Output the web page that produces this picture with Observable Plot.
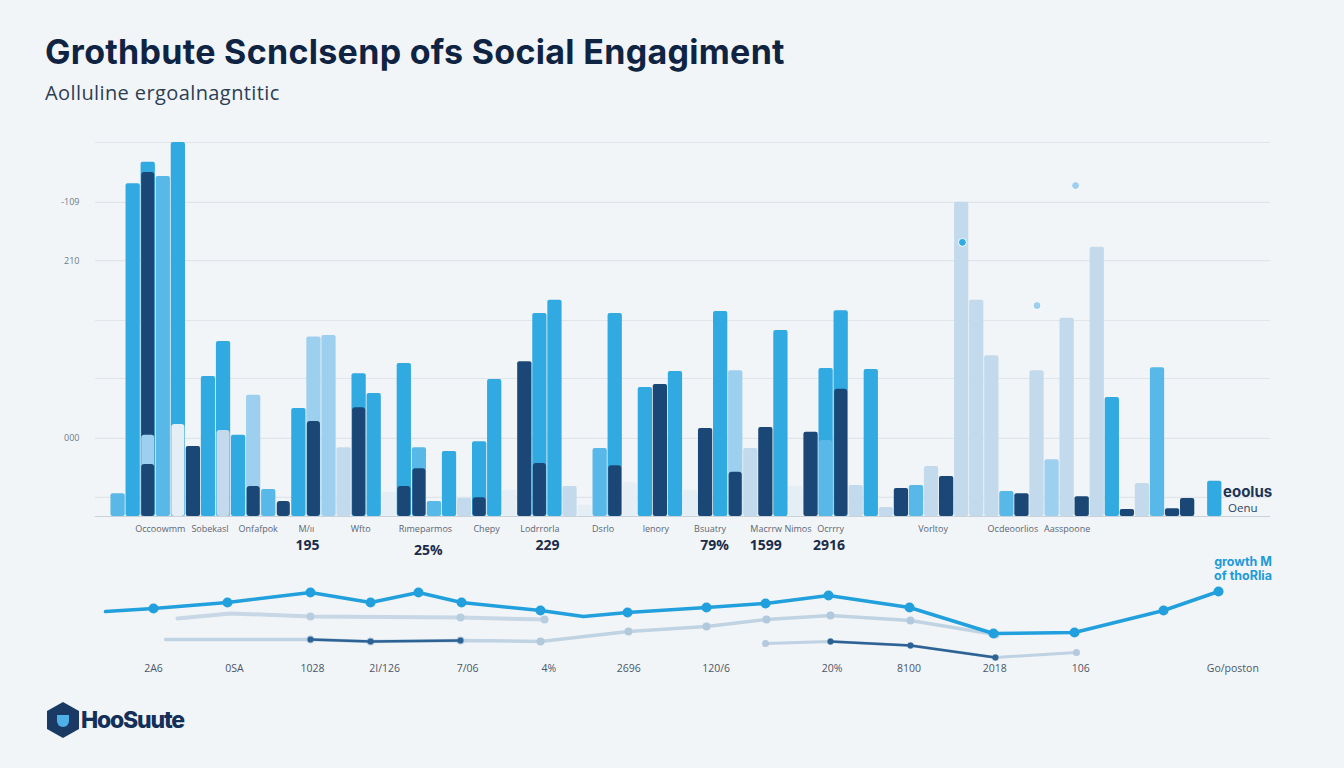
<!DOCTYPE html>
<html>
<head>
<meta charset="utf-8">
<script src="https://cdn.jsdelivr.net/npm/d3@7"></script>
<script src="https://cdn.jsdelivr.net/npm/@observablehq/plot@0.6"></script>
<style>
  html, body { margin: 0; padding: 0; background: #f2f5f7; }
  #page { position: relative; width: 1344px; height: 768px; overflow: hidden; background: #f2f5f7; font-family: "Open Sans", "Noto Sans", sans-serif; }
  #title { position: absolute; left: 45px; top: 31px; font-family: Inter, "Open Sans", sans-serif; font-weight: 700; font-size: 34px; color: #0f2443; letter-spacing: 0.3px; white-space: nowrap; }
  #subtitle { position: absolute; left: 45px; top: 79px; font-size: 20px; color: #2c3e55; white-space: nowrap; letter-spacing: 0.4px; }
  #top { position: absolute; left: 0; top: 130px; }
  #bottom { position: absolute; left: 0; top: 575px; }
  #legend1 { position: absolute; left: 1223px; top: 482px; font-family: Inter, sans-serif; font-weight: 700; font-size: 15px; color: #1c3557; }
  #legend2 { position: absolute; left: 1228px; top: 500px; font-size: 11.5px; color: #2c4565; }
  #growth { position: absolute; right: 72px; top: 555px; text-align: right; font-family: Inter, sans-serif; font-weight: 700; font-size: 12.5px; line-height: 14px; color: #1e9bd7; }
  #logo { position: absolute; left: 47px; top: 702px; display: flex; align-items: center; }
  #hex { width: 32px; height: 36px; background: #1a3a63; clip-path: polygon(50% 0, 100% 25%, 100% 75%, 50% 100%, 0 75%, 0 25%); position: relative; }
  #hex::after { content: ""; position: absolute; left: 10px; top: 13px; width: 12px; height: 12px; background: #4db0e6; border-radius: 0 0 6px 6px; }
  #logotext { font-family: Inter, sans-serif; font-weight: 800; font-size: 23px; color: #13305a; margin-left: 2px; letter-spacing: -1.2px; }
  svg text { font-family: "Open Sans", "Noto Sans", sans-serif; }
</style>
</head>
<body>
<div id="page">
  <div id="title">Grothbute Scnclsenp ofs Social Engagiment</div>
  <div id="subtitle">Aolluline ergoalnagntitic</div>
  <div id="top"></div>
  <div id="bottom"></div>
  <div id="legend1">eoolus</div>
  <div id="legend2">Oenu</div>
  <div id="growth">growth M<br>of thoRlia</div>
  <div id="logo"><div id="hex"></div><div id="logotext">HooSuute</div></div>
</div>
<script>
// ---------- data ----------
const shades = {
  bright: "#31a9e1",
  mid: "#58b9e8",
  sky: "#9dd0ef",
  pale: "#c3daec",
  white: "#e5eef5",
  navy: "#1a4775"
};

// grid values and y tick labels (value axis 0-100)
const gridValues = [5.1, 20.9, 36.9, 52.4, 68.4, 84, 100];
const yTickLabels = [
  { value: 84, label: "-109" },
  { value: 68.4, label: "210" },
  { value: 20.9, label: "000" }
];

// back layer bars: slot, value, shade
const backBars = [
  {slot:1,value:6.1,c:"mid"},{slot:2,value:89,c:"bright"},{slot:3,value:94.7,c:"bright"},
  {slot:4,value:90.9,c:"mid"},{slot:5,value:100,c:"bright"},{slot:6,value:18.7,c:"navy"},
  {slot:7,value:37.4,c:"bright"},{slot:8,value:46.8,c:"bright"},{slot:9,value:21.7,c:"bright"},
  {slot:10,value:32.4,c:"sky"},{slot:11,value:7.2,c:"mid"},{slot:13,value:28.9,c:"bright"},
  {slot:14,value:48,c:"sky"},{slot:15,value:48.4,c:"sky"},{slot:16,value:18.4,c:"pale"},
  {slot:17,value:38.2,c:"bright"},{slot:18,value:32.9,c:"bright"},{slot:19,value:6.4,c:"white"},
  {slot:20,value:40.9,c:"bright"},{slot:21,value:18.4,c:"mid"},{slot:22,value:4,c:"mid"},
  {slot:23,value:17.4,c:"bright"},{slot:24,value:4.8,c:"pale"},{slot:25,value:20,c:"bright"},
  {slot:26,value:36.6,c:"bright"},{slot:27,value:7,c:"white"},{slot:28,value:41.4,c:"navy"},
  {slot:29,value:54.3,c:"bright"},{slot:30,value:57.8,c:"bright"},{slot:31,value:8,c:"pale"},
  {slot:32,value:3,c:"white"},{slot:33,value:18.2,c:"mid"},{slot:34,value:54.3,c:"bright"},
  {slot:35,value:9,c:"white"},{slot:36,value:34.5,c:"bright"},{slot:37,value:35.3,c:"navy"},
  {slot:38,value:38.8,c:"bright"},{slot:39,value:7,c:"white"},{slot:40,value:23.5,c:"navy"},
  {slot:41,value:54.8,c:"bright"},{slot:42,value:39,c:"sky"},{slot:43,value:18.2,c:"pale"},
  {slot:44,value:23.8,c:"navy"},{slot:45,value:49.7,c:"bright"},{slot:46,value:8,c:"white"},
  {slot:47,value:22.5,c:"navy"},{slot:48,value:39.6,c:"bright"},{slot:49,value:55,c:"bright"},
  {slot:50,value:8.3,c:"pale"},{slot:51,value:39.3,c:"bright"},{slot:52,value:2.4,c:"pale"},
  {slot:53,value:7.5,c:"navy"},{slot:54,value:8.3,c:"mid"},{slot:55,value:13.4,c:"pale"},
  {slot:56,value:10.7,c:"navy"},{slot:57,value:84,c:"pale"},{slot:58,value:57.8,c:"pale"},
  {slot:59,value:43,c:"pale"},{slot:60,value:6.7,c:"mid"},{slot:61,value:6.1,c:"navy"},
  {slot:62,value:39,c:"pale"},{slot:63,value:15.2,c:"sky"},{slot:64,value:53,c:"pale"},
  {slot:65,value:5.3,c:"navy"},{slot:66,value:72,c:"pale"},{slot:67,value:31.8,c:"bright"},
  {slot:68,value:1.9,c:"navy"},{slot:69,value:8.8,c:"pale"},{slot:70,value:39.8,c:"mid"},
  {slot:71,value:2.1,c:"navy"},{slot:72,value:4.8,c:"navy"},{slot:73.8,value:9.4,c:"bright"}
];

// front layer bars, drawn in order over the back layer
const frontBars = [
  {slot:3,value:92,c:"navy"},{slot:3,value:21.7,c:"sky"},{slot:3,value:13.9,c:"navy"},
  {slot:5,value:24.6,c:"white"},{slot:8,value:23,c:"pale"},{slot:10,value:8,c:"navy"},
  {slot:12,value:4,c:"navy"},{slot:14,value:25.4,c:"navy"},{slot:17,value:29.1,c:"navy"},
  {slot:20,value:8,c:"navy"},{slot:21,value:12.8,c:"navy"},{slot:25,value:5,c:"navy"},
  {slot:29,value:14.2,c:"navy"},{slot:34,value:13.6,c:"navy"},{slot:42,value:11.8,c:"navy"},
  {slot:48,value:20.3,c:"mid"},{slot:49,value:34,c:"navy"}
];

// floating markers over the right bars
const markers = [
  {slot:57.55, value:73.3, c:"bright"},
  {slot:65.06, value:88.5, c:"sky"},
  {slot:62.5, value:56.4, c:"sky"}
];

// category labels under the bars
const categories = [
  {pos:4.3,name:"Occoowmm"},{pos:7.6,name:"Sobekasl"},{pos:10.8,name:"Onfafpok"},
  {pos:14.0,name:"M/ıı"},{pos:17.6,name:"Wfto"},{pos:21.9,name:"Rımeparmos"},
  {pos:25.96,name:"Chepy"},{pos:29.5,name:"Lodrrorla"},{pos:33.7,name:"Dsrlo"},
  {pos:37.2,name:"lenory"},{pos:40.8,name:"Bsuatry"},{pos:45.5,name:"Macrrw Nimos"},
  {pos:48.8,name:"Ocrrry"},{pos:55.6,name:"Vorltoy"},{pos:60.9,name:"Ocdeoorlios"},
  {pos:64.5,name:"Aasspoone"}
];
const highlightValues = [
  {pos:14.07,label:"195"},{pos:30.0,label:"229"},{pos:41.1,label:"79%"},
  {pos:44.5,label:"1599"},{pos:48.7,label:"2916"}
];
const highlightValuesLow = [{pos:22.1,label:"25%"}];

// line chart series (period position, value)
const mainT = [0.66,3.85,8.76,14.27,18.26,21.44,24.3,29.54,32.39,35.32,40.56,44.48,48.66,54.04,59.61,64.99,70.9,74.55];
const mainV = [65.3,69.3,77.3,90.7,77.3,90.7,77.3,66.7,58.7,64,70.7,76,86.7,70.7,36,37.3,66.7,92];
const mainDot = [false,true,true,true,true,true,true,true,false,true,true,true,true,true,true,true,true,true];
const upperT = [5.44,8.96,14.27,24.23,29.81];
const upperV = [56,62.7,58.7,57.3,54.7];
const lowerT = [4.65,14.27,18.26,24.23,29.54,35.38,40.56,44.54,48.79,54.1,59.74];
const lowerV = [28,28,25.3,26.7,25.3,38.7,45.3,54.7,60,53.3,34.7];
const rightT = [44.48,48.79,54.1,59.74,65.12];
const rightV = [22.7,25.3,20,4,10.7];
const darkT = [14.27,18.26,24.23,36,48.79,54.1,59.74];
const darkV = [28,25.3,26.7,null,25.3,20,4];

const periodLabels = [
  {pos:3.85,label:"2A6"},{pos:9.23,label:"0SA"},{pos:14.4,label:"1028"},
  {pos:19.2,label:"2I/126"},{pos:24.7,label:"7/06"},{pos:30.1,label:"4%"},
  {pos:35.4,label:"2696"},{pos:41.2,label:"120/6"},{pos:48.9,label:"20%"},
  {pos:54.0,label:"8100"},{pos:59.7,label:"2018"},{pos:65.4,label:"106"},
  {pos:75.5,label:"Go/poston"}
];

// ---------- build ----------
const toRows = (t, v) => t.map((x, i) => ({t: x, v: v[i], i}));
const mainRows = toRows(mainT, mainV);
const upperRows = toRows(upperT, upperV);
const lowerRows = toRows(lowerT, lowerV);
const rightRows = toRows(rightT, rightV);
const darkRows = toRows(darkT, darkV);

const topChart = Plot.plot({
  width: 1344, height: 440,
  marginLeft: 95, marginRight: 74, marginTop: 12, marginBottom: 54,
  x: {domain: [0, 78], axis: null},
  y: {domain: [0, 100], axis: null},
  style: {background: "transparent", overflow: "visible"},
  marks: [
    Plot.ruleY(gridValues, {stroke: "#dfe5ea", strokeWidth: 1.2}),
    Plot.text(yTickLabels, {x: 0, y: "value", text: "label", dx: -16, textAnchor: "end", fontSize: 9, fill: "#6b7a8c"}),
    Plot.rect(backBars, {x1: "slot", x2: d => d.slot + 1, y1: 0, y2: "value", fill: d => shades[d.c], insetLeft: 0.4, insetRight: 0.4, rx: 2}),
    Plot.rect(frontBars, {x1: "slot", x2: d => d.slot + 1, y1: 0, y2: "value", fill: d => shades[d.c], insetLeft: 1, insetRight: 1, rx: 3}),
    Plot.ruleY([0], {stroke: "#c9d2da", strokeWidth: 1.2}),
    Plot.dot(markers, {x: "slot", y: "value", r: 4, fill: d => shades[d.c], stroke: "#ffffff", strokeWidth: 1}),
    Plot.text(categories, {x: "pos", y: 0, text: "name", dy: 13, fontSize: 9, fill: "#5b6675"}),
    Plot.text(highlightValues, {x: "pos", y: 0, text: "label", dy: 29, fontSize: 14, fontWeight: 700, fill: "#1b2c4a"}),
    Plot.text(highlightValuesLow, {x: "pos", y: 0, text: "label", dy: 34, fontSize: 14, fontWeight: 700, fill: "#1b2c4a"})
  ]
});
document.getElementById("top").appendChild(topChart);

const bottomChart = Plot.plot({
  width: 1344, height: 105,
  marginLeft: 95, marginRight: 74, marginTop: 10, marginBottom: 20,
  x: {domain: [0, 78], axis: null},
  y: {domain: [0, 100], axis: null},
  style: {background: "transparent", overflow: "visible"},
  marks: [
    Plot.line(upperRows, {x: "t", y: "v", stroke: "#c7d7e5", strokeWidth: 4, strokeLinecap: "round"}),
    Plot.line(lowerRows, {x: "t", y: "v", stroke: "#c0d3e3", strokeWidth: 3.5, strokeLinecap: "round"}),
    Plot.line(rightRows, {x: "t", y: "v", stroke: "#bed2e3", strokeWidth: 3, strokeLinecap: "round"}),
    Plot.dot(upperRows.slice(2), {x: "t", y: "v", r: 4, fill: "#b7cde0"}),
    Plot.dot(lowerRows.slice(1), {x: "t", y: "v", r: 4, fill: "#b1c9dd"}),
    Plot.dot(rightRows, {x: "t", y: "v", r: 3.5, fill: "#b3c9dc"}),
    Plot.line(darkRows, {x: "t", y: "v", stroke: "#2d6294", strokeWidth: 2.5}),
    Plot.dot(darkRows.filter(d => d.v != null), {x: "t", y: "v", r: 3, fill: "#2d6294"}),
    Plot.line(mainRows, {x: "t", y: "v", stroke: "#22a0dd", strokeWidth: 3.5, strokeLinejoin: "round"}),
    Plot.dot(mainRows.filter(d => mainDot[d.i]), {x: "t", y: "v", r: 5, fill: "#22a0dd"}),
    Plot.text(periodLabels, {x: "pos", y: 0, text: "label", dy: 8, fontSize: 10.5, fill: "#4a5668"})
  ]
});
document.getElementById("bottom").appendChild(bottomChart);
</script>
</body>
</html>
